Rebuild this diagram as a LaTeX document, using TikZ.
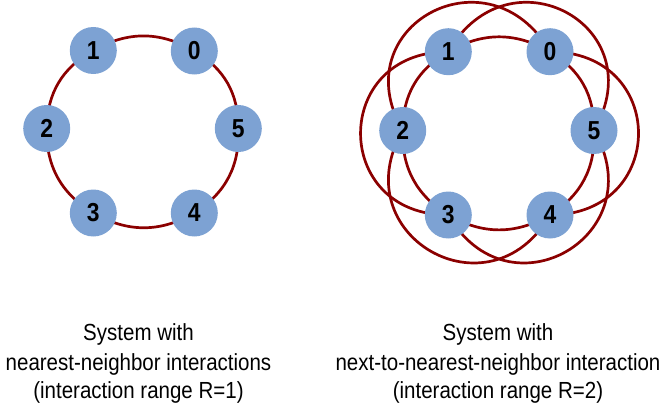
\documentclass[tikz,border=0pt]{standalone}
\usepackage{fontspec}
\setmainfont{Liberation Sans}[FakeStretch=0.88]
\usetikzlibrary{backgrounds}
\definecolor{siteblue}{RGB}{125,162,211}
\definecolor{bondred}{RGB}{139,0,0}
\tikzset{
  site/.style={circle, fill=siteblue, draw=none, minimum size=47pt, inner sep=0pt,
    font=\fontsize{26}{27}\selectfont\bfseries},
  bond/.style={draw=bondred, line width=2.7pt},
  caption/.style={anchor=base, inner sep=0pt, font=\fontsize{23.3}{29}\selectfont},
}
\begin{document}
\begin{tikzpicture}[x=1pt, y=-1pt]
\useasboundingbox (0,0) rectangle (661,412);
% left system (R=1)
\node[site] (l0) at (194.3,51) {0};
\node[site] (l1) at (93.3,50.5) {1};
\node[site] (l2) at (46.7,128.5) {2};
\node[site] (l3) at (93.3,213) {3};
\node[site] (l4) at (194.3,213) {4};
\node[site] (l5) at (238.3,128.5) {5};
% right system (R=2)
\node[site] (r0) at (550,51.7) {0};
\node[site] (r1) at (448.3,51.7) {1};
\node[site] (r2) at (402.7,130.5) {2};
\node[site] (r3) at (448.3,215) {3};
\node[site] (r4) at (550,215) {4};
\node[site] (r5) at (594,130.5) {5};
\begin{pgfonlayer}{background}
  % nearest-neighbour ring, left
  \draw[bond] (l0.center) to[bend right=30] (l1.center);
  \draw[bond] (l1.center) to[bend right=30] (l2.center);
  \draw[bond] (l2.center) to[bend right=30] (l3.center);
  \draw[bond] (l3.center) to[bend right=30] (l4.center);
  \draw[bond] (l4.center) to[bend right=30] (l5.center);
  \draw[bond] (l5.center) to[bend right=30] (l0.center);
  % nearest-neighbour ring, right
  \draw[bond] (r0.center) to[bend right=30] (r1.center);
  \draw[bond] (r1.center) to[bend right=30] (r2.center);
  \draw[bond] (r2.center) to[bend right=30] (r3.center);
  \draw[bond] (r3.center) to[bend right=30] (r4.center);
  \draw[bond] (r4.center) to[bend right=30] (r5.center);
  \draw[bond] (r5.center) to[bend right=30] (r0.center);
  % next-to-nearest-neighbour bonds
  \draw[bond] (r0.center) .. controls +(-120:121) and +(-120:121) .. (r2.center);
  \draw[bond] (r1.center) .. controls +(180:117) and +(180:117) .. (r3.center);
  \draw[bond] (r2.center) .. controls +(120:121) and +(120:121) .. (r4.center);
  \draw[bond] (r3.center) .. controls +(60:121) and +(60:121) .. (r5.center);
  \draw[bond] (r4.center) .. controls +(0:118) and +(0:118) .. (r0.center);
  \draw[bond] (r5.center) .. controls +(-60:121) and +(-60:121) .. (r1.center);
\end{pgfonlayer}
% captions
\node[caption] (lc1) at (138.5,340.7) {System with};
\node[caption] (lc2) at (138.5,370) {nearest-neighbor interactions};
\node[caption] (lc3) at (138.5,398) {(interaction range R=1)};
\node[caption] (rc1) at (498,340.7) {System with};
\node[caption] (rc2) at (498,370) {next-to-nearest-neighbor interaction};
\node[caption] (rc3) at (498,398) {(interaction range R=2)};
\end{tikzpicture}
\end{document}
